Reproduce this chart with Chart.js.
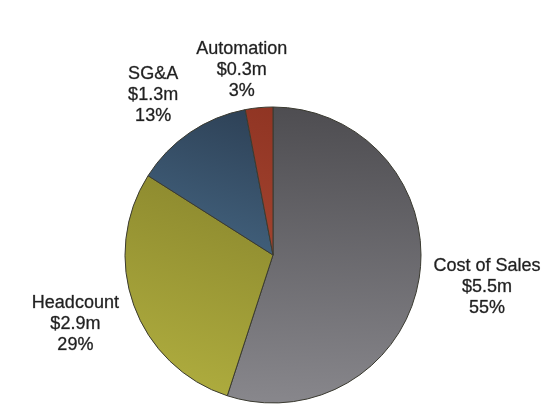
<!DOCTYPE html>
<html>
<head>
<meta charset="utf-8">
<title>Cost breakdown</title>
<script src="https://cdn.jsdelivr.net/npm/chart.js@4/dist/chart.umd.min.js"></script>
<style>
  html, body { margin: 0; padding: 0; background: #ffffff; }
  #wrap { width: 541px; height: 417px; position: relative; }
</style>
</head>
<body>
<div id="wrap"><canvas id="pie"></canvas></div>
<script>
// Cost categories and amounts ($m)
const categories = ['Cost of Sales', 'Headcount', 'SG&A', 'Automation'];
const amounts = [5.5, 2.9, 1.3, 0.3];

// Slice shading: darker stop and lighter stop of each slice's gradient
const darkStops  = ['#4e4d51', '#7b7726', '#2a3b4f', '#8e3322'];
const lightStops = ['#88878c', '#aeac3e', '#5580a2', '#b5523a'];
// Horizontal tilt of each gradient axis (fraction of radius)
const gradientTilt = [0.05, 0.35, 0.35, 0.35];

// Small pixel nudges for the outside labels
const labelNudge = [[5, 3], [-8, 5], [-17, -4], [-12, 2]];

const total = amounts.reduce((a, b) => a + b, 0);

function sliceFill(ctx) {
  const chart = ctx.chart;
  const area = chart.chartArea;
  const i = ctx.dataIndex;
  if (!area) return lightStops[i];
  const meta = chart.getDatasetMeta(0);
  const arc = meta.data[i];
  const cx = arc && arc.x ? arc.x : (area.left + area.right) / 2;
  const cy = arc && arc.y ? arc.y : (area.top + area.bottom) / 2;
  const r = arc && arc.outerRadius ? arc.outerRadius : 148;
  const t = gradientTilt[i];
  const g = chart.ctx.createLinearGradient(cx + t * r, cy - r, cx - t * r, cy + r);
  g.addColorStop(0, darkStops[i]);
  g.addColorStop(1, lightStops[i]);
  return g;
}

// Three-line labels outside each slice: name, amount, share
const outsideLabels = {
  id: 'outsideLabels',
  afterDatasetsDraw(chart) {
    const ctx = chart.ctx;
    const meta = chart.getDatasetMeta(0);
    const lineH = 21;
    const gap = 10;
    ctx.save();
    ctx.font = '18px "Liberation Sans", Arial, sans-serif';
    ctx.fillStyle = '#202020';
    ctx.strokeStyle = 'rgba(32,32,32,0.55)';
    ctx.lineWidth = 0.5;
    ctx.lineJoin = 'round';
    ctx.textAlign = 'center';
    ctx.textBaseline = 'middle';
    meta.data.forEach((arc, i) => {
      const lines = [
        categories[i],
        '$' + amounts[i].toFixed(1) + 'm',
        Math.round(amounts[i] / total * 100) + '%'
      ];
      const w = Math.max(...lines.map(t => ctx.measureText(t).width));
      const h = lineH * 2 + 18;
      const mid = (arc.startAngle + arc.endAngle) / 2;
      const dx = Math.cos(mid), dy = Math.sin(mid);
      const d = arc.outerRadius + gap;
      const bx = arc.x + dx * d + dx * w / 2 + labelNudge[i][0];
      const by = arc.y + dy * d + dy * h / 2 + labelNudge[i][1];
      lines.forEach((t, k) => {
        const ty = by + (k - 1) * lineH;
        ctx.strokeText(t, bx, ty);
        ctx.fillText(t, bx, ty);
      });
    });
    ctx.restore();
  }
};

new Chart(document.getElementById('pie'), {
  type: 'pie',
  data: {
    labels: categories,
    datasets: [{
      data: amounts,
      backgroundColor: sliceFill,
      borderColor: '#3a3a30',
      borderWidth: 1
    }]
  },
  options: {
    responsive: true,
    maintainAspectRatio: false,
    animation: false,
    radius: 148,
    layout: { padding: { left: 5, right: 0, top: 100, bottom: 7 } },
    plugins: {
      legend: { display: false },
      tooltip: { enabled: false }
    }
  },
  plugins: [outsideLabels]
});
</script>
</body>
</html>
